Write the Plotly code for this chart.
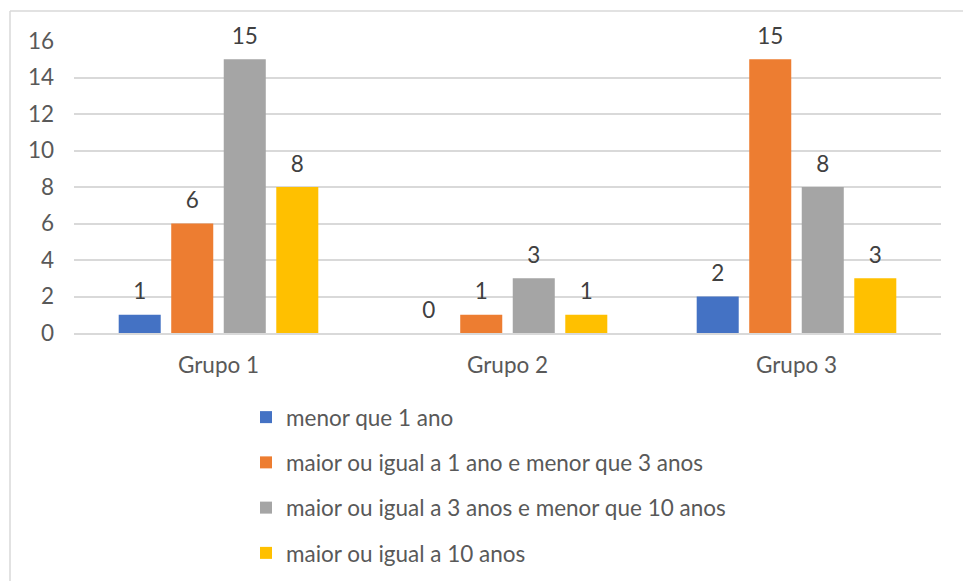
import plotly.graph_objects as go

# Chart data
grupos = ["Grupo 1", "Grupo 2", "Grupo 3"]
series_nomes = [
    "menor que 1 ano",
    "maior ou igual a 1 ano e menor que 3 anos",
    "maior ou igual a 3 anos e menor que 10 anos",
    "maior ou igual a 10 anos",
]
menor_1 = [1, 0, 2]
entre_1_3 = [6, 1, 15]
entre_3_10 = [15, 3, 8]
maior_10 = [8, 1, 3]
cores = ["#4472C4", "#ED7D31", "#A5A5A5", "#FFC000"]
y_ticks = [0, 2, 4, 6, 8, 10, 12, 14, 16]

series_valores = [menor_1, entre_1_3, entre_3_10, maior_10]

FONT = "Lato"
FS = 22.5
W, H = 963, 581
ML, MR, MT, MB = 74, 22, 41, 248

fig = go.Figure()

for i, (nome, valores, cor) in enumerate(zip(series_nomes, series_valores, cores)):
    fig.add_trace(go.Bar(
        x=grupos, y=valores, name=nome,
        marker=dict(color=cor, line=dict(width=0)),
        legendgroup=f"g{i}",
        hoverinfo="skip",
    ))

# value labels, grouped in the same slots as the bars
for i, (valores, cor) in enumerate(zip(series_valores, cores)):
    fig.add_trace(go.Scatter(
        x=grupos, y=valores, mode="markers+text",
        text=[str(v) for v in valores],
        textposition="top center",
        textfont=dict(family=FONT, size=FS, color="#404040"),
        marker=dict(size=14, opacity=0),
        cliponaxis=False,
        showlegend=False, hoverinfo="skip",
    ))

pw = W - ML - MR
ph = H - MT - MB
def px(x):
    return (x - ML) / pw
def py(y):
    return (H - MB - y) / ph

# chart frame
frame = [
    dict(type="line", xref="paper", yref="paper",
         x0=px(10), x1=px(963), y0=py(11), y1=py(11),
         line=dict(color="#D9D9D9", width=1.5)),
    dict(type="line", xref="paper", yref="paper",
         x0=px(10), x1=px(10), y0=py(11), y1=py(581),
         line=dict(color="#D9D9D9", width=1.5)),
]

fig.update_layout(
    width=W, height=H,
    margin=dict(l=ML, r=MR, t=MT, b=MB, autoexpand=False),
    paper_bgcolor="white", plot_bgcolor="white",
    barmode="group", bargap=0.273, bargroupgap=0.2,
    scattermode="group", scattergap=0.273,
    font=dict(family=FONT, size=FS, color="#595959"),
    shapes=frame,
    showlegend=True,
    legend=dict(
        orientation="v", x=px(246), xanchor="left",
        y=py(396), yanchor="top",
        traceorder="grouped", tracegroupgap=13,
        font=dict(family=FONT, size=FS, color="#595959"),
        bgcolor="rgba(0,0,0,0)",
    ),
    xaxis=dict(
        showgrid=False, showline=True, linecolor="#D9D9D9", linewidth=1.5,
        ticks="", ticklabelstandoff=11,
        tickfont=dict(family=FONT, size=FS, color="#595959"),
    ),
    yaxis=dict(
        range=[0, 16], tickvals=y_ticks, showgrid=True,
        gridcolor="#D9D9D9", gridwidth=1.5, zeroline=False,
        showline=False, ticks="", ticklabelstandoff=19,
        tickfont=dict(family=FONT, size=FS, color="#595959"),
    ),
)

fig.write_html("out.html")
